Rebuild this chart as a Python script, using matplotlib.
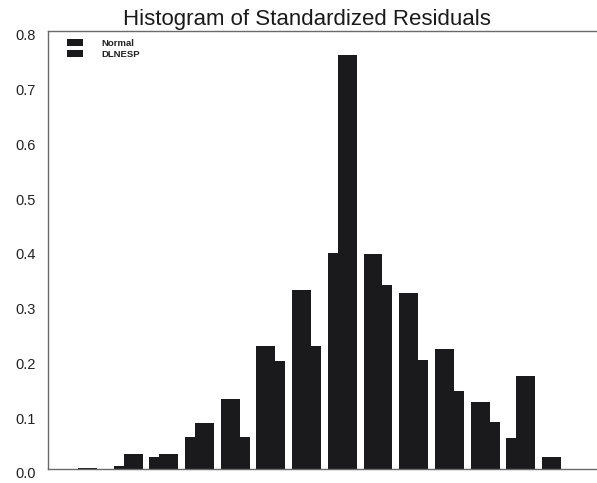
import numpy as np
import matplotlib.pyplot as plt
import matplotlib.transforms as mtransforms

plt.rcParams['font.family'] = ['Liberation Sans', 'DejaVu Sans']

# relative frequency per residual bin
bins = np.arange(14)
normal = [0.002, 0.006, 0.022, 0.058, 0.128, 0.225, 0.327, 0.395,
          0.392, 0.321, 0.219, 0.122, 0.057, 0.022]
dlnesp = [0.0, 0.027, 0.027, 0.084, 0.058, 0.197, 0.225, 0.756,
          0.336, 0.199, 0.142, 0.086, 0.170, 0.0]
yticks = [0.0, 0.1, 0.2, 0.3, 0.4, 0.5, 0.6, 0.7, 0.8]

bar_color = '#1a191c'
width = 0.53
offset = 0.28

fig = plt.figure(figsize=(5.97, 4.83), dpi=100)
ax = fig.add_axes([48 / 597, 14 / 483, 1 - 48 / 597, 438 / 483])

ax.bar(bins, normal, width=width, align='edge', color=bar_color,
       linewidth=0, label='Normal')
ax.bar(bins + offset, dlnesp, width=width, align='edge', color=bar_color,
       linewidth=0, label='DLNESP')

ax.set_xlim(-0.84, 14.54)
ax.set_ylim(0, 0.8)
ax.set_xticks([])
ax.set_yticks(yticks)
ax.set_yticklabels(['%.1f' % v for v in yticks], fontsize=10.5, color='#222222')
ax.tick_params(axis='y', length=0, pad=9)

# labels sit a touch below their grid value
shift = mtransforms.ScaledTranslation(0, -4 / 100, fig.dpi_scale_trans)
for lbl in ax.get_yticklabels():
    lbl.set_transform(lbl.get_transform() + shift)

for side in ['left', 'top', 'bottom']:
    ax.spines[side].set_color('#6a6a6a')
    ax.spines[side].set_linewidth(1.0)
ax.spines['right'].set_visible(False)

leg = ax.legend(loc='upper left', bbox_to_anchor=(0.025, 0.995), frameon=False,
                fontsize=6.8, handlelength=1.7, handleheight=0.75,
                handletextpad=1.9, labelspacing=0.2, borderaxespad=0.2)
for t in leg.get_texts():
    t.set_fontweight('bold')
    t.set_color('#222222')

fig.text(307 / 597, 1 - 19 / 483, 'Histogram of Standardized Residuals',
         ha='center', va='center', fontsize=16, color='#1a1a1a')

fig.savefig('out.png', dpi=100)
